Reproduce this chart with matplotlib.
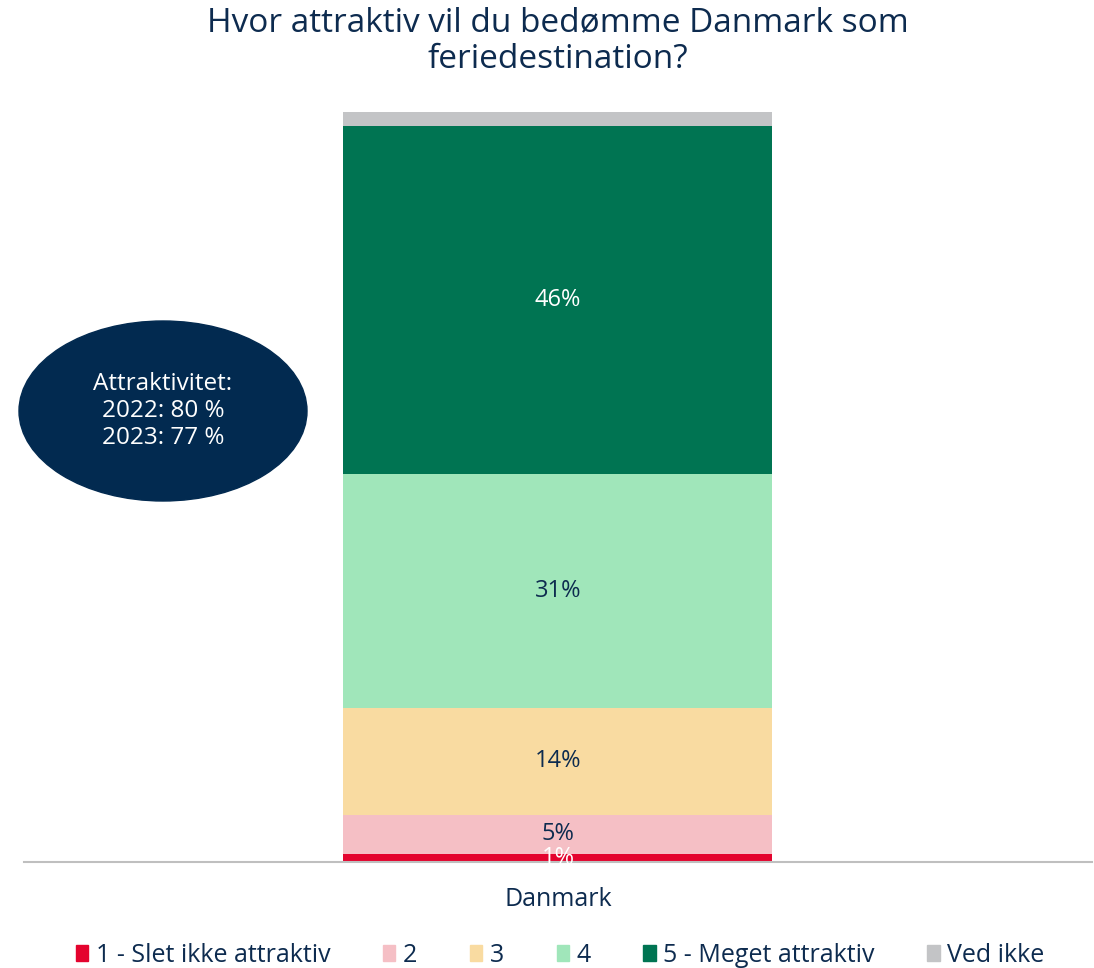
import matplotlib.pyplot as plt
from matplotlib.patches import Ellipse, Patch

plt.rcParams['font.family'] = ['Open Sans', 'DejaVu Sans']

categories = ["1 - Slet ikke attraktiv", "2", "3", "4", "5 - Meget attraktiv", "Ved ikke"]
values = [1.07, 5.2, 14.3, 31.2, 46.4, 1.9]
labels = ["1%", "5%", "14%", "31%", "46%", ""]
colors = ["#E4032E", "#F5BFC5", "#F9DBA1", "#A0E6BA", "#007452", "#C3C4C6"]
label_colors = ["white", "#0D2B4F", "#0D2B4F", "#0D2B4F", "white", "#0D2B4F"]
group = "Danmark"
bubble_text = "Attraktivitet:\n2022: 80 %\n2023: 77 %"

navy = "#0D2B4F"

fig = plt.figure(figsize=(10.94, 9.68), dpi=100)
ax = fig.add_axes([0.0219, 0.1095, 0.9762, 0.7748])

bottom = 0
for cat, v, lab, c, lc in zip(categories, values, labels, colors, label_colors):
    ax.bar(0, v, bottom=bottom, width=0.4017, color=c, label=cat)
    if lab:
        ax.text(0, bottom + v / 2, lab, ha="center", va="center",
                fontsize=17, color=lc)
    bottom += v

ax.set_xlim(-0.5, 0.5)
ax.set_ylim(0, 100)
ax.set_yticks([])
ax.set_xticks([0])
ax.set_xticklabels([group], fontsize=18, color=navy)
ax.tick_params(axis="x", length=0, pad=18)
for s in ["top", "right", "left"]:
    ax.spines[s].set_visible(False)
ax.spines["bottom"].set_color("#BFBFBF")
ax.spines["bottom"].set_linewidth(1.5)

fig.text(0.51, 0.994, "Hvor attraktiv vil du bedømme Danmark som\nferiedestination?",
         ha="center", va="top", fontsize=24, color=navy, linespacing=1.15)

ell = Ellipse((163 / 1094, 1 - 411 / 968), 288 / 1094, 180 / 968,
              transform=fig.transFigure, color="#022A50")
fig.patches.append(ell)
fig.text(163 / 1094, 1 - 411 / 968, bubble_text, ha="center", va="center",
         fontsize=17.5, color="white", linespacing=1.17)

handles = [Patch(color=c) for c in colors]
fig.legend(handles, categories, loc="center", bbox_to_anchor=(0.512, 0.013),
           ncol=6, frameon=False, fontsize=18, handlelength=0.5, handleheight=0.6,
           handletextpad=0.3, columnspacing=2.1, labelcolor=navy)

fig.savefig("out.png", dpi=100)
